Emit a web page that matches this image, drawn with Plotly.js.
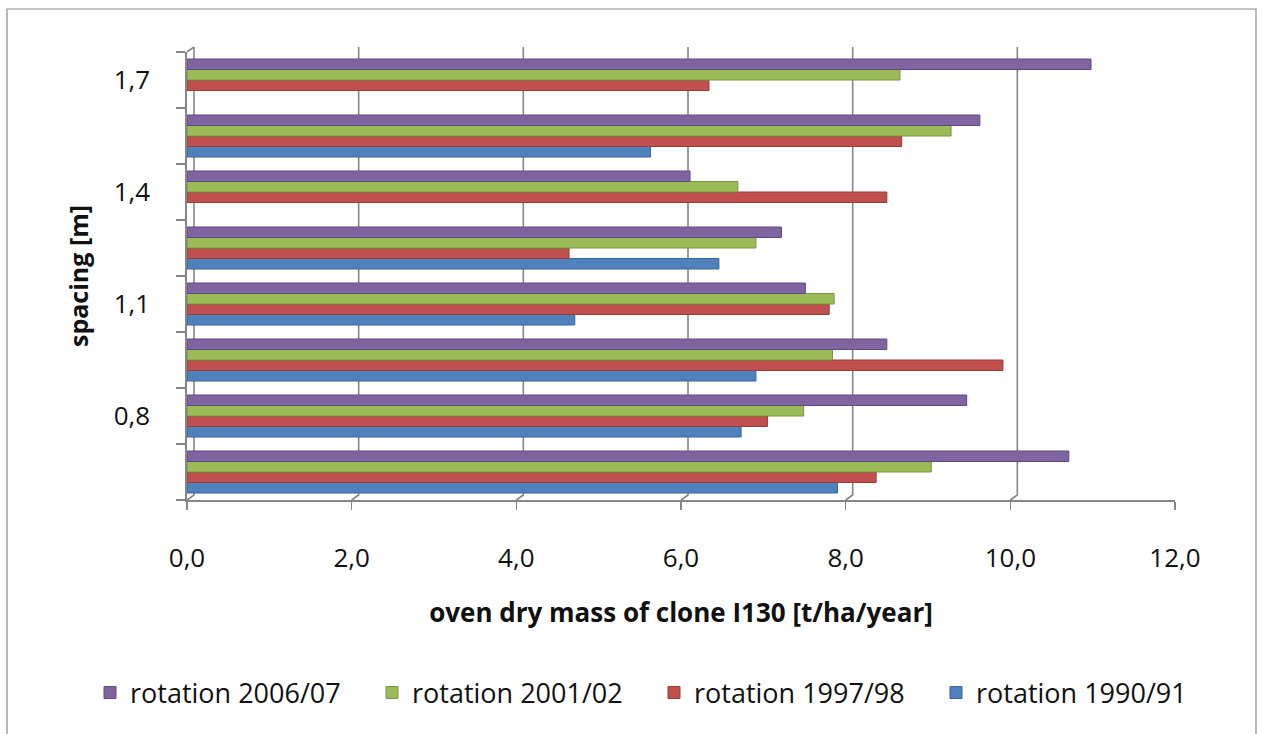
<!DOCTYPE html>
<html>
<head>
<meta charset="utf-8">
<script src="https://cdn.plot.ly/plotly-3.0.1.min.js"></script>
<style>
  html, body { margin: 0; padding: 0; background: #ffffff; }
  #chart { width: 1262px; height: 734px; }
</style>
</head>
<body>
<div id="chart"></div>
<script>
// Spacing groups, bottom to top; only every other group carries a label.
var spacingLabels = ['', '0,8', '', '1,1', '', '1,4', '', '1,7'];

// Oven dry mass of clone I130 [t/ha/year] per rotation (null = no bar).
var rot2006 = [10.71, 9.47, 8.50, 7.51, 7.22, 6.11, 9.63, 10.98];
var rot2001 = [9.04, 7.49, 7.84, 7.86, 6.91, 6.69, 9.28, 8.66];
var rot1997 = [8.37, 7.05, 9.91, 7.80, 4.64, 8.50, 8.68, 6.34];
var rot1990 = [7.90, 6.73, 6.91, 4.71, 6.46, null, 5.63, null];

var xTickVals = [0, 2, 4, 6, 8, 10, 12];
var xTickText = ['0,0', '2,0', '4,0', '6,0', '8,0', '10,0', '12,0'];

var groupPos = spacingLabels.map(function (_, i) { return i; });
var labelPos = groupPos.filter(function (i) { return spacingLabels[i] !== ''; });
var labelText = labelPos.map(function (i) { return spacingLabels[i]; });

function barTrace(name, values, color, edge) {
  return {
    type: 'bar',
    orientation: 'h',
    name: name,
    x: values,
    y: groupPos,
    marker: { color: color, line: { color: edge, width: 1 } },
    hoverinfo: 'x+name'
  };
}

// Plotly stacks horizontal groups from the bottom, so the oldest rotation goes first.
var data = [
  barTrace('rotation 1990/91', rot1990, '#4F81BD', '#3A6494'),
  barTrace('rotation 1997/98', rot1997, '#C0504D', '#963C3A'),
  barTrace('rotation 2001/02', rot2001, '#9BBB59', '#789443'),
  barTrace('rotation 2006/07', rot2006, '#8064A2', '#5F4A7B')
];

var W = 1262, H = 734;
var M = { l: 187, r: 87, t: 52, b: 234 };
var plotW = W - M.l - M.r, plotH = H - M.t - M.b;
var grey = '#868686';
var depthX = 7, depthY = 5;

function px2paperX(px) { return (px - M.l) / plotW; }
function px2paperY(py) { return (H - M.b - py) / plotH; }

var shapes = [];
// Back-wall gridlines with a short receding edge from the floor.
xTickVals.forEach(function (v) {
  shapes.push({
    type: 'path', layer: 'below',
    xref: 'x', yref: 'paper',
    xsizemode: 'pixel', ysizemode: 'pixel',
    xanchor: v, yanchor: 0,
    path: 'M0,0 L' + depthX + ',' + depthY + ' L' + depthX + ',' + (plotH + depthY),
    line: { color: grey, width: 1.6 }
  });
});
// Top corner of the side wall.
shapes.push({
  type: 'path', layer: 'below',
  xref: 'x', yref: 'paper',
  xsizemode: 'pixel', ysizemode: 'pixel',
  xanchor: 0, yanchor: 1,
  path: 'M0,0 L' + depthX + ',' + depthY,
  line: { color: grey, width: 1.6 }
});
// Outer chart frame.
shapes.push({
  type: 'rect', layer: 'below',
  xref: 'paper', yref: 'paper',
  x0: px2paperX(7), x1: px2paperX(1256),
  y0: px2paperY(745), y1: px2paperY(9),
  line: { color: '#8c8c8c', width: 1.2 },
  fillcolor: 'rgba(0,0,0,0)'
});

var layout = {
  width: W, height: H,
  margin: M,
  paper_bgcolor: '#ffffff',
  plot_bgcolor: 'rgba(0,0,0,0)',
  font: { family: 'Open Sans, sans-serif', color: '#111111' },
  barmode: 'group',
  bargap: 0.25,
  bargroupgap: 0,
  showlegend: true,
  legend: {
    orientation: 'h',
    traceorder: 'reversed',
    xref: 'paper', yref: 'paper',
    x: px2paperX(90), xanchor: 'left',
    y: px2paperY(693), yanchor: 'middle',
    font: { family: 'Open Sans, sans-serif', size: 27, color: '#111111' },
    itemwidth: 30,
    entrywidth: 237,
    bgcolor: 'rgba(0,0,0,0)'
  },
  xaxis: {
    range: [0, 12],
    fixedrange: true,
    tickvals: xTickVals,
    ticktext: xTickText,
    tickfont: { size: 26, color: '#111111' },
    ticks: 'outside', ticklen: 8, tickwidth: 1.6, tickcolor: grey,
    ticklabelstandoff: 26,
    showline: true, linecolor: grey, linewidth: 1.6,
    showgrid: false, zeroline: false,
    title: {
      text: 'oven dry mass of clone I130 [t/ha/year]',
      font: { size: 26, color: '#111111', family: 'Open Sans, sans-serif', weight: 'bold' },
      standoff: 30
    }
  },
  yaxis: {
    range: [-0.5, groupPos.length - 0.5],
    fixedrange: true,
    tickvals: labelPos,
    ticktext: labelText,
    tickfont: { size: 26, color: '#111111' },
    ticks: '',
    ticklabelstandoff: 30,
    minor: { tick0: -0.5, dtick: 1, ticks: 'outside', ticklen: 9, tickwidth: 1.6, tickcolor: grey, showgrid: false },
    showline: true, linecolor: grey, linewidth: 1.6,
    showgrid: false, zeroline: false,
    title: {
      text: 'spacing [m]',
      font: { size: 25, color: '#111111', family: 'Open Sans, sans-serif', weight: 'bold' },
      standoff: 18
    }
  },
  shapes: shapes
};

Plotly.newPlot('chart', data, layout, { displayModeBar: false, staticPlot: true });
</script>
</body>
</html>
